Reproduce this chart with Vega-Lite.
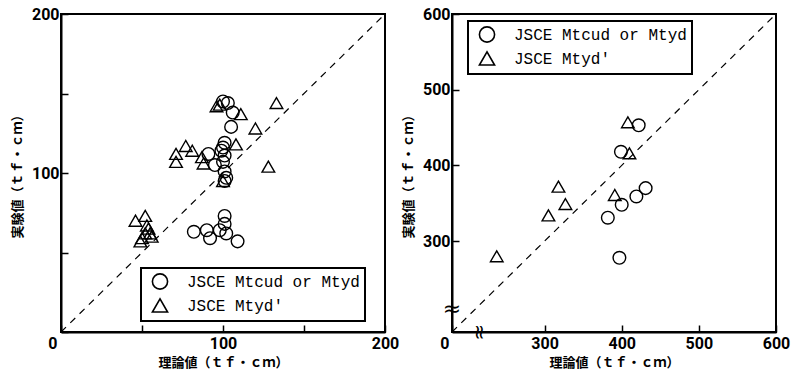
{
  "$schema": "https://vega.github.io/schema/vega-lite/v6.json",
  "background": "white",
  "padding": {"left": 10, "top": 5, "right": 0, "bottom": 0},
  "spacing": 1,
  "config": {
    "view": {"stroke": "black", "strokeWidth": 2},
    "axis": {
      "domain": true, "domainColor": "black", "domainWidth": 2,
      "grid": false, "ticks": true, "tickColor": "black", "tickWidth": 1.5, "tickSize": -7,
      "labelFont": "Roboto", "labelFontWeight": "bold", "labelFontSize": 16,
      "labelColor": "black", "labelFlush": false, "labelOverlap": false,
      "titleFont": "Noto Sans CJK JP", "titleFontSize": 13, "titleFontWeight": "bold", "titleColor": "black"
    },
    "legend": {
      "orient": "none", "title": null, "strokeColor": "black", "strokeWidth": 2, "fillColor": "white",
      "padding": 5, "symbolSize": 230, "symbolStrokeWidth": 1.6, "symbolStrokeColor": "black",
      "symbolOffset": 5.5, "labelOffset": 18.5, "rowPadding": 2,
      "labelFont": "Liberation Mono", "labelFontSize": 16, "labelColor": "black", "labelLimit": 400
    }
  },
  "resolve": {"scale": {"shape": "independent"}, "legend": {"shape": "independent"}},
  "hconcat": [
    {
      "width": 324, "height": 318,
      "layer": [
        {
          "data": {"values": [{}]},
          "mark": {"type": "rule", "strokeDash": [7, 6], "strokeWidth": 1.2, "color": "black"},
          "encoding": {
            "x": {"datum": 0, "type": "quantitative"},
            "y": {"datum": 0, "type": "quantitative"},
            "x2": {"datum": 200},
            "y2": {"datum": 200}
          }
        },
        {
          "data": {"values": [
            {"theory": 100, "exp": 145, "type": "JSCE Mtcud or Mtyd"},
            {"theory": 103, "exp": 144, "type": "JSCE Mtcud or Mtyd"},
            {"theory": 106, "exp": 138, "type": "JSCE Mtcud or Mtyd"},
            {"theory": 105, "exp": 129, "type": "JSCE Mtcud or Mtyd"},
            {"theory": 101, "exp": 119, "type": "JSCE Mtcud or Mtyd"},
            {"theory": 100, "exp": 116, "type": "JSCE Mtcud or Mtyd"},
            {"theory": 99, "exp": 114, "type": "JSCE Mtcud or Mtyd"},
            {"theory": 101, "exp": 111, "type": "JSCE Mtcud or Mtyd"},
            {"theory": 91, "exp": 112, "type": "JSCE Mtcud or Mtyd"},
            {"theory": 95, "exp": 105, "type": "JSCE Mtcud or Mtyd"},
            {"theory": 100, "exp": 107, "type": "JSCE Mtcud or Mtyd"},
            {"theory": 101, "exp": 101, "type": "JSCE Mtcud or Mtyd"},
            {"theory": 101, "exp": 95, "type": "JSCE Mtcud or Mtyd"},
            {"theory": 102, "exp": 97, "type": "JSCE Mtcud or Mtyd"},
            {"theory": 82, "exp": 63, "type": "JSCE Mtcud or Mtyd"},
            {"theory": 90, "exp": 64, "type": "JSCE Mtcud or Mtyd"},
            {"theory": 92, "exp": 59, "type": "JSCE Mtcud or Mtyd"},
            {"theory": 98, "exp": 64, "type": "JSCE Mtcud or Mtyd"},
            {"theory": 101, "exp": 73, "type": "JSCE Mtcud or Mtyd"},
            {"theory": 101, "exp": 68, "type": "JSCE Mtcud or Mtyd"},
            {"theory": 102, "exp": 62, "type": "JSCE Mtcud or Mtyd"},
            {"theory": 109, "exp": 57, "type": "JSCE Mtcud or Mtyd"},
            {"theory": 96, "exp": 142, "type": "JSCE Mtyd'"},
            {"theory": 98, "exp": 143, "type": "JSCE Mtyd'"},
            {"theory": 111, "exp": 137, "type": "JSCE Mtyd'"},
            {"theory": 120, "exp": 128, "type": "JSCE Mtyd'"},
            {"theory": 133, "exp": 144, "type": "JSCE Mtyd'"},
            {"theory": 108, "exp": 118, "type": "JSCE Mtyd'"},
            {"theory": 128, "exp": 104, "type": "JSCE Mtyd'"},
            {"theory": 87, "exp": 110, "type": "JSCE Mtyd'"},
            {"theory": 88, "exp": 106, "type": "JSCE Mtyd'"},
            {"theory": 71, "exp": 112, "type": "JSCE Mtyd'"},
            {"theory": 71, "exp": 107, "type": "JSCE Mtyd'"},
            {"theory": 77, "exp": 117, "type": "JSCE Mtyd'"},
            {"theory": 81, "exp": 114, "type": "JSCE Mtyd'"},
            {"theory": 100, "exp": 95, "type": "JSCE Mtyd'"},
            {"theory": 46, "exp": 70, "type": "JSCE Mtyd'"},
            {"theory": 52, "exp": 73, "type": "JSCE Mtyd'"},
            {"theory": 54, "exp": 65, "type": "JSCE Mtyd'"},
            {"theory": 55, "exp": 62, "type": "JSCE Mtyd'"},
            {"theory": 56, "exp": 60, "type": "JSCE Mtyd'"},
            {"theory": 52, "exp": 62, "type": "JSCE Mtyd'"},
            {"theory": 50, "exp": 59, "type": "JSCE Mtyd'"},
            {"theory": 49, "exp": 57, "type": "JSCE Mtyd'"},
            {"theory": 53, "exp": 67, "type": "JSCE Mtyd'"}
          ]},
          "mark": {"type": "point", "filled": false, "stroke": "black", "strokeWidth": 1.4, "size": 160, "opacity": 1},
          "encoding": {
            "x": {
              "field": "theory", "type": "quantitative",
              "scale": {"domain": [0, 200], "nice": false, "zero": false},
              "axis": {
                "title": "理論値（ｔｆ・ｃｍ）", "values": [0, 50, 100, 150, 200],
                "labelExpr": "datum.value % 100 == 0 ? datum.label : ''",
                "labelPadding": 10, "titlePadding": 5,
                "labelAlign": {"condition": {"test": "datum.value == 0", "value": "right"}, "value": "center"},
                "labelOffset": {"condition": {"test": "datum.value == 0", "value": -4}, "value": 0}
              }
            },
            "y": {
              "field": "exp", "type": "quantitative",
              "scale": {"domain": [0, 200], "nice": false, "zero": false},
              "axis": {
                "title": "実験値（ｔｆ・ｃｍ）", "values": [0, 50, 100, 150, 200],
                "labelExpr": "datum.value == 100 || datum.value == 200 ? datum.label : ''",
                "labelPadding": 9, "titlePadding": 7
              }
            },
            "shape": {
              "field": "type", "type": "nominal",
              "scale": {"domain": ["JSCE Mtcud or Mtyd", "JSCE Mtyd'"], "range": ["circle", "triangle-up"]},
              "legend": {"legendX": 80, "legendY": 254}
            }
          }
        }
      ]
    },
    {
      "width": 324, "height": 318,
      "layer": [
        {
          "data": {"values": [{}]},
          "mark": {"type": "rule", "strokeDash": [7, 6], "strokeWidth": 1.2, "color": "black"},
          "encoding": {
            "x": {"datum": 180, "type": "quantitative"},
            "y": {"datum": 180, "type": "quantitative"},
            "x2": {"datum": 600},
            "y2": {"datum": 600}
          }
        },
        {
          "data": {"values": [{}]},
          "mark": {"type": "text", "text": "≈", "font": "DejaVu Sans", "fontSize": 22, "baseline": "middle", "color": "black"},
          "encoding": {
            "x": {"datum": 180, "type": "quantitative"},
            "y": {"datum": 210, "type": "quantitative"}
          }
        },
        {
          "data": {"values": [{}]},
          "mark": {"type": "text", "text": "≈", "font": "DejaVu Sans", "fontSize": 20, "angle": 90, "baseline": "middle", "color": "black"},
          "encoding": {
            "x": {"datum": 215, "type": "quantitative"},
            "y": {"datum": 180, "type": "quantitative"}
          }
        },
        {
          "data": {"values": [
            {"theory": 422, "exp": 453, "type": "JSCE Mtcud or Mtyd"},
            {"theory": 399, "exp": 418, "type": "JSCE Mtcud or Mtyd"},
            {"theory": 400, "exp": 348, "type": "JSCE Mtcud or Mtyd"},
            {"theory": 431, "exp": 370, "type": "JSCE Mtcud or Mtyd"},
            {"theory": 419, "exp": 359, "type": "JSCE Mtcud or Mtyd"},
            {"theory": 382, "exp": 331, "type": "JSCE Mtcud or Mtyd"},
            {"theory": 397, "exp": 278, "type": "JSCE Mtcud or Mtyd"},
            {"theory": 408, "exp": 457, "type": "JSCE Mtyd'"},
            {"theory": 410, "exp": 416, "type": "JSCE Mtyd'"},
            {"theory": 318, "exp": 372, "type": "JSCE Mtyd'"},
            {"theory": 327, "exp": 349, "type": "JSCE Mtyd'"},
            {"theory": 305, "exp": 334, "type": "JSCE Mtyd'"},
            {"theory": 391, "exp": 361, "type": "JSCE Mtyd'"},
            {"theory": 238, "exp": 280, "type": "JSCE Mtyd'"}
          ]},
          "mark": {"type": "point", "filled": false, "stroke": "black", "strokeWidth": 1.4, "size": 160, "opacity": 1},
          "encoding": {
            "x": {
              "field": "theory", "type": "quantitative",
              "scale": {"domain": [180, 600], "nice": false, "zero": false},
              "axis": {
                "title": "理論値（ｔｆ・ｃｍ）", "values": [180, 300, 400, 500, 600],
                "labelExpr": "datum.value == 180 ? '0' : datum.label",
                "labelPadding": 10, "titlePadding": 5,
                "labelAlign": {"condition": {"test": "datum.value == 180", "value": "right"}, "value": "center"},
                "labelOffset": {"condition": {"test": "datum.value == 180", "value": -3}, "value": 0}
              }
            },
            "y": {
              "field": "exp", "type": "quantitative",
              "scale": {"domain": [180, 600], "nice": false, "zero": false},
              "axis": {
                "title": "実験値（ｔｆ・ｃｍ）", "values": [300, 400, 500, 600],
                "labelPadding": 9, "titlePadding": 7
              }
            },
            "shape": {
              "field": "type", "type": "nominal",
              "scale": {"domain": ["JSCE Mtcud or Mtyd", "JSCE Mtyd'"], "range": ["circle", "triangle-up"]},
              "legend": {"legendX": 16, "legendY": 7}
            }
          }
        }
      ]
    }
  ]
}
